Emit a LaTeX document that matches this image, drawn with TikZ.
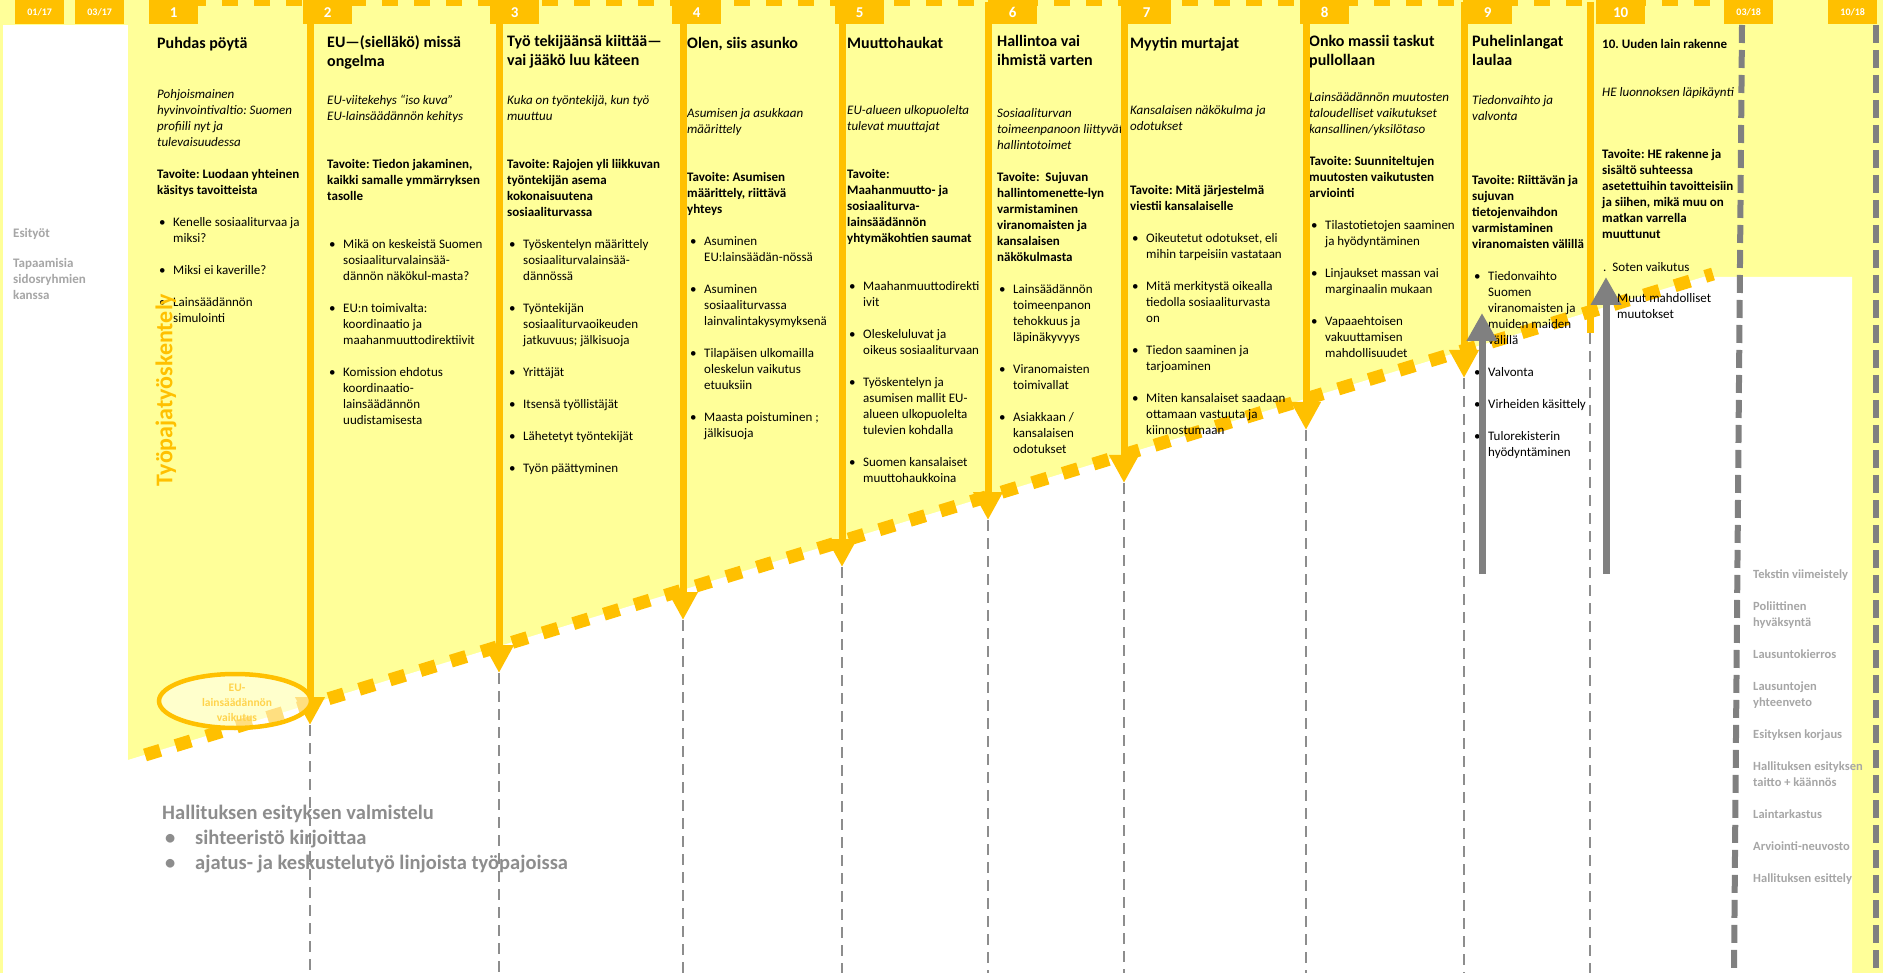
\documentclass[tikz,border=0pt]{standalone}
\usepackage{fontspec}
\setmainfont{Carlito}
\usetikzlibrary{arrows.meta}
\frenchspacing

\definecolor{gold}{HTML}{FFC000}
\definecolor{pale}{HTML}{FFFF99}
\definecolor{ash}{HTML}{808080}
\definecolor{mist}{HTML}{A6A6A6}

% bullet and hanging indent for the lists
\newcommand{\kohta}{\makebox[14pt][l]{\textbullet}}
\newcommand{\jatko}{\hspace*{14pt}}

\begin{document}
\begin{tikzpicture}[
	                  x = 1pt,
	                  y = -1pt,
	         tab/.style = {fill=gold, text=white, inner sep=0pt, anchor=north west,
	                       minimum width=49pt, minimum height=24pt,
	                       font=\bfseries\fontsize{15}{18}\selectfont},
	        date/.style = {tab, font=\bfseries\fontsize{10}{12}\selectfont},
	         txt/.style = {anchor=north west, inner sep=0pt, align=left,
	                       execute at begin node=\strut},
	     heading/.style = {txt, font=\bfseries\fontsize{16}{19}\selectfont},
	       intro/.style = {txt, font=\itshape\fontsize{13}{16}\selectfont},
	        goal/.style = {txt, font=\bfseries\fontsize{13}{16}\selectfont},
	      points/.style = {txt, font=\fontsize{13}{16}\selectfont},
	        note/.style = {txt, text=mist, font=\bfseries\fontsize{13}{16}\selectfont},
	       phase/.style = {draw=gold, line width=7pt, -{Triangle[width=28pt,length=28pt]}},
	        rest/.style = {draw=ash!90, line width=2.2pt, dash pattern=on 11pt off 7pt},
	        back/.style = {draw=ash, line width=7pt, -{Triangle[width=29pt,length=28pt]}},
	       limit/.style = {draw=ash, line width=6pt, dash pattern=on 18pt off 7pt},
	                     ]
		\useasboundingbox (0,0) rectangle (1883,973);

		% background: yellow workshop area, white outside
		\fill[pale] (0,0) rectangle (1883,973);
		\fill[white] (3,25) rectangle (128,973);
		\fill[white] (128,760) -- (1713,274) -- (1713,277) -- (1852,277)
		    -- (1852,973) -- (128,973) -- cycle;

		% timeline on top and the diagonal border
		\draw[gold, line width=6pt, dash pattern=on 16pt off 16pt, dash phase=23pt]
		    (149,3) -- (1712,3);
		\draw[gold, line width=13pt, dash pattern=on 16pt off 16pt]
		    (145,755) -- (1713,274);

		% column start and end points
		\coordinate (top2) at (310,2);   \coordinate (tip2) at (310,725);   \coordinate (bot2) at (310,973);
		\coordinate (top3) at (499,2);   \coordinate (tip3) at (499,673);   \coordinate (bot3) at (499,973);
		\coordinate (top4) at (683,2);   \coordinate (tip4) at (683,620);   \coordinate (bot4) at (683,973);
		\coordinate (top5) at (842,2);   \coordinate (tip5) at (842,567);   \coordinate (bot5) at (842,973);
		\coordinate (top6) at (988,2);   \coordinate (tip6) at (988,520);   \coordinate (bot6) at (988,973);
		\coordinate (top7) at (1124,2);  \coordinate (tip7) at (1124,483);  \coordinate (bot7) at (1124,973);
		\coordinate (top8) at (1306,2);  \coordinate (tip8) at (1306,430);  \coordinate (bot8) at (1306,973);
		\coordinate (top9) at (1464,2);  \coordinate (tip9) at (1464,378);  \coordinate (bot9) at (1464,973);
		\coordinate (top10) at (1590,2); \coordinate (tip10) at (1590,333); \coordinate (bot10) at (1590,973);

		% dashed continuation below the border
		\draw[rest] (tip2) -- (bot2);
		\draw[rest] (tip3) -- (bot3);
		\draw[rest] (tip4) -- (bot4);
		\draw[rest] (tip5) -- (bot5);
		\draw[rest] (tip6) -- (bot6);
		\draw[rest] (tip7) -- (bot7);
		\draw[rest] (tip8) -- (bot8);
		\draw[rest] (tip9) -- (bot9);
		\draw[rest] (tip10) -- (bot10);

		% left side
		\node[note] (esityot) at (13,226) {Esityöt};
		\node[note] (tapaam) at (13,258) {Tapaamisia\\sidosryhmien\\kanssa};

		% 1
		\node[heading] (tit1) at (157,35) {Puhdas pöytä};
		\node[intro] (sub1) at (157,89) {Pohjoismainen\\hyvinvointivaltio: Suomen\\profiili nyt ja\\tulevaisuudessa};
		\node[goal] (goal1) at (157,169) {Tavoite: Luodaan yhteinen\\käsitys tavoitteista};
		\node[points] (list1) at (159,217) {\kohta Kenelle sosiaaliturvaa ja\\\jatko miksi?\\[16pt]%
		    \kohta Miksi ei kaverille?\\[16pt]\kohta Lainsäädännön\\\jatko simulointi};

		% 2
		\node[heading] (tit2) at (327,35) {EU—(sielläkö) missä\\ongelma};
		\node[intro] (sub2) at (327,95) {EU-viitekehys “iso kuva”\\EU-lainsäädännön kehitys};
		\node[goal] (goal2) at (327,159) {Tavoite: Tiedon jakaminen,\\kaikki samalle ymmärryksen\\tasolle};
		\node[points] (list2) at (329,239) {\kohta Mikä on keskeistä Suomen\\\jatko sosiaaliturvalainsää-\\\jatko dännön näkökul-masta?\\[16pt]%
		    \kohta EU:n toimivalta:\\\jatko koordinaatio ja\\\jatko maahanmuuttodirektiivit\\[16pt]%
		    \kohta Komission ehdotus\\\jatko koordinaatio-\\\jatko lainsäädännön\\\jatko uudistamisesta};

		% 3
		\node[heading] (tit3) at (507,35) {Työ tekijäänsä kiittää—\\vai jääkö luu käteen};
		\node[intro] (sub3) at (507,95) {Kuka on työntekijä, kun työ\\muuttuu};
		\node[goal] (goal3) at (507,159) {Tavoite: Rajojen yli liikkuvan\\työntekijän asema\\kokonaisuutena\\sosiaaliturvassa};
		\node[points] (list3) at (509,239) {\kohta Työskentelyn määrittely\\\jatko sosiaaliturvalainsää-\\\jatko dännössä\\[16pt]%
		    \kohta Työntekijän\\\jatko sosiaaliturvaoikeuden\\\jatko jatkuvuus; jälkisuoja\\[16pt]%
		    \kohta Yrittäjät\\[16pt]\kohta Itsensä työllistäjät\\[16pt]%
		    \kohta Lähetetyt työntekijät\\[16pt]\kohta Työn päättyminen};

		% 4
		\node[heading] (tit4) at (687,35) {Olen, siis asunko};
		\node[intro] (sub4) at (687,108) {Asumisen ja asukkaan\\määrittely};
		\node[goal] (goal4) at (687,172) {Tavoite: Asumisen\\määrittely, riittävä\\yhteys};
		\node[points] (list4) at (690,236) {\kohta Asuminen\\\jatko EU:lainsäädän-nössä\\[16pt]%
		    \kohta Asuminen\\\jatko sosiaaliturvassa\\\jatko lainvalintakysymyksenä\\[16pt]%
		    \kohta Tilapäisen ulkomailla\\\jatko oleskelun vaikutus\\\jatko etuuksiin\\[16pt]%
		    \kohta Maasta poistuminen ;\\\jatko jälkisuoja};

		% 5
		\node[heading] (tit5) at (847,35) {Muuttohaukat};
		\node[intro] (sub5) at (847,105) {EU-alueen ulkopuolelta\\tulevat muuttajat};
		\node[goal] (goal5) at (847,169) {Tavoite:\\Maahanmuutto- ja\\sosiaaliturva-\\lainsäädännön\\yhtymäkohtien saumat};
		\node[points] (list5) at (849,281) {\kohta Maahanmuuttodirekti\\\jatko ivit\\[16pt]%
		    \kohta Oleskeluluvat ja\\\jatko oikeus sosiaaliturvaan\\[16pt]%
		    \kohta Työskentelyn ja\\\jatko asumisen mallit EU-\\\jatko alueen ulkopuolelta\\\jatko tulevien kohdalla\\[16pt]%
		    \kohta Suomen kansalaiset\\\jatko muuttohaukkoina};

		% 6
		\node[heading] (tit6) at (997,35) {Hallintoa vai\\ihmistä varten};
		\node[intro] (sub6) at (997,108) {Sosiaaliturvan\\toimeenpanoon liittyvät\\hallintotoimet};
		\node[goal] (goal6) at (997,172) {Tavoite:~ Sujuvan\\hallintomenette-lyn\\varmistaminen\\viranomaisten ja\\kansalaisen\\näkökulmasta};
		\node[points] (list6) at (999,284) {\kohta Lainsäädännön\\\jatko toimeenpanon\\\jatko tehokkuus ja\\\jatko läpinäkyvyys\\[16pt]%
		    \kohta Viranomaisten\\\jatko toimivallat\\[16pt]%
		    \kohta Asiakkaan /\\\jatko kansalaisen\\\jatko odotukset};

		% 7
		\node[heading] (tit7) at (1130,35) {Myytin murtajat};
		\node[intro] (sub7) at (1130,105) {Kansalaisen näkökulma ja\\odotukset};
		\node[goal] (goal7) at (1130,185) {Tavoite: Mitä järjestelmä\\viestii kansalaiselle};
		\node[points] (list7) at (1132,233) {\kohta Oikeutetut odotukset, eli\\\jatko mihin tarpeisiin vastataan\\[16pt]%
		    \kohta Mitä merkitystä oikealla\\\jatko tiedolla sosiaaliturvasta\\\jatko on\\[16pt]%
		    \kohta Tiedon saaminen ja\\\jatko tarjoaminen\\[16pt]%
		    \kohta Miten kansalaiset saadaan\\\jatko ottamaan vastuuta ja\\\jatko kiinnostumaan};

		% 8
		\node[heading] (tit8) at (1309,35) {Onko massii taskut\\pullollaan};
		\node[intro] (sub8) at (1309,92) {Lainsäädännön muutosten\\taloudelliset vaikutukset\\kansallinen/yksilötaso};
		\node[goal] (goal8) at (1309,156) {Tavoite: Suunniteltujen\\muutosten vaikutusten\\arviointi};
		\node[points] (list8) at (1311,220) {\kohta Tilastotietojen saaminen\\\jatko ja hyödyntäminen\\[16pt]%
		    \kohta Linjaukset massan vai\\\jatko marginaalin mukaan\\[16pt]%
		    \kohta Vapaaehtoisen\\\jatko vakuuttamisen\\\jatko mahdollisuudet};

		% 9
		\node[heading] (tit9) at (1472,35) {Puhelinlangat\\laulaa};
		\node[intro] (sub9) at (1472,95) {Tiedonvaihto ja\\valvonta};
		\node[goal] (goal9) at (1472,175) {Tavoite: Riittävän ja\\sujuvan\\tietojenvaihdon\\varmistaminen\\viranomaisten välillä};
		\node[points] (list9) at (1474,271) {\kohta Tiedonvaihto\\\jatko Suomen\\\jatko viranomaisten ja\\\jatko muiden maiden\\\jatko välillä\\[16pt]%
		    \kohta Valvonta\\[16pt]\kohta Virheiden käsittely\\[16pt]%
		    \kohta Tulorekisterin\\\jatko hyödyntäminen};

		% 10
		\node[goal] (tit10) at (1602,37) {10. Uuden lain rakenne};
		\node[intro] (sub10) at (1602,85) {HE luonnoksen läpikäynti};
		\node[goal] (goal10) at (1602,149) {Tavoite: HE rakenne ja\\sisältö suhteessa\\asetettuihin tavoitteisiin\\ja siihen, mikä muu on\\matkan varrella\\muuttunut};
		\node[points] (sote) at (1603,260) {.\hspace*{6pt}Soten vaikutus};

		% orange column arrows
		\draw[phase] (top2) -- (tip2);
		\draw[phase] (top3) -- (tip3);
		\draw[phase] (top4) -- (tip4);
		\draw[phase] (top5) -- (tip5);
		\draw[phase] (top6) -- (tip6);
		\draw[phase] (top7) -- (tip7);
		\draw[phase] (top8) -- (tip8);
		\draw[phase] (top9) -- (tip9);
		\draw[phase, -] (top10) -- (tip10);

		% grey arrows pointing back up
		\coordinate (foot9) at (1482,574);  \coordinate (head9) at (1482,313);
		\coordinate (foot10) at (1606,574); \coordinate (head10) at (1606,277);
		\draw[back] (foot9) -- (head9);
		\draw[back] (foot10) -- (head10);
		\node[points] (muut) at (1617,293) {Muut mahdolliset\\muutokset};

		% milestones 03/18 and 10/18
		\coordinate (m1top) at (1742,25); \coordinate (m1bot) at (1734,973);
		\coordinate (m2top) at (1876,25); \coordinate (m2bot) at (1876,973);
		\draw[limit] (m1top) -- (m1bot);
		\draw[limit] (m2top) -- (m2bot);

		% tabs
		\node[date] (d0117) at (15,0) {01/17};
		\node[date] (d0317) at (75,0) {03/17};
		\node[tab] (n1) at (149,0) {1};
		\node[tab] (n2) at (303,0) {2};
		\node[tab] (n3) at (490,0) {3};
		\node[tab] (n4) at (672,0) {4};
		\node[tab] (n5) at (835,0) {5};
		\node[tab] (n6) at (988,0) {6};
		\node[tab] (n7) at (1122,0) {7};
		\node[tab] (n8) at (1300,0) {8};
		\node[tab] (n9) at (1463,0) {9};
		\node[tab] (n10) at (1596,0) {10};
		\node[date] (d0318) at (1724,0) {03/18};
		\node[date] (d1018) at (1828,0) {10/18};

		% steps after the workshops
		\node[note, font=\bfseries\fontsize{12.5}{16}\selectfont] (vaiheet) at (1753,570)
		    {Tekstin viimeistely\\[16pt]Poliittinen\\hyväksyntä\\[16pt]Lausuntokierros\\[16pt]%
		     Lausuntojen\\yhteenveto\\[16pt]Esityksen korjaus\\[16pt]Hallituksen esityksen\\taitto + käännös\\[16pt]%
		     Laintarkastus\\[16pt]Arviointi-neuvosto\\[16pt]Hallituksen esittely};

		% drafting of the bill
		\node[txt, text=ash!90, font=\bfseries\fontsize{20.5}{25}\selectfont] (valm) at (162,805)
		    {Hallituksen esityksen valmistelu\\%
		     \makebox[33pt][l]{\hspace*{3pt}\textbullet}sihteeristö kirjoittaa\\%
		     \makebox[33pt][l]{\hspace*{3pt}\textbullet}ajatus- ja keskustelutyö linjoista työpajoissa};

		% EU ellipse and workshop label
		\draw[gold, line width=4.5pt, fill=white, fill opacity=0.5] (235,701) ellipse [x radius=76pt, y radius=27pt];
		\node[text=gold!70!white, align=center, inner sep=0pt,
		      font=\bfseries\fontsize{11.5}{15}\selectfont] (euvaik) at (237,703) {EU-\\lainsäädännön\\vaikutus};
		\node[rotate=90, text=gold, inner sep=0pt,
		      font=\bfseries\fontsize{24}{29}\selectfont] (tyopaja) at (166,390) {Työpajatyöskentely};
\end{tikzpicture}
\end{document}
